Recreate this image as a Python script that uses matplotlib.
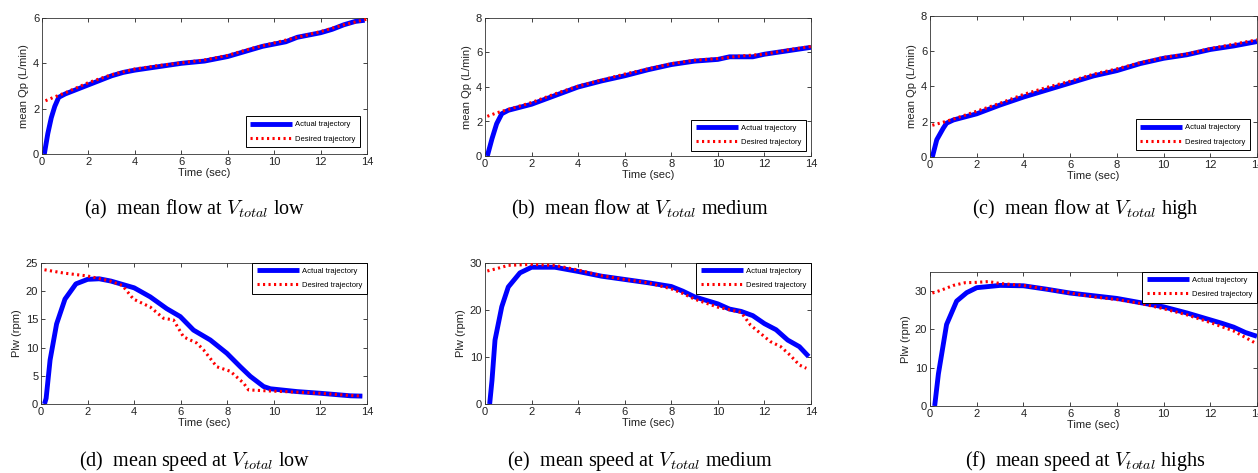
import numpy as np
import matplotlib
matplotlib.use("Agg")
import matplotlib.pyplot as plt

plt.rcParams['font.family'] = ['Liberation Sans', 'DejaVu Sans']
plt.rcParams['mathtext.fontset'] = 'cm'

# ---- data ----
# (a) mean flow, V_total low
t_a_act = [0.1, 0.25, 0.4, 0.55, 0.72, 1.0, 1.5, 2.0, 2.5, 3.0, 3.5, 4.0, 5.0, 6.0, 7.0, 8.0, 9.0, 9.5, 10.0, 10.5, 11.0, 11.5, 12.0, 12.5, 13.0, 13.5, 13.9]
q_a_act = [0.0, 0.9, 1.6, 2.1, 2.5, 2.65, 2.85, 3.05, 3.25, 3.45, 3.6, 3.7, 3.85, 4.0, 4.1, 4.3, 4.6, 4.75, 4.85, 4.95, 5.15, 5.25, 5.35, 5.5, 5.7, 5.85, 5.9]
t_a_des = [0.15, 0.5, 1.0, 2.0, 3.0, 4.0, 5.0, 6.0, 7.0, 8.0, 9.0, 10.0, 11.0, 12.0, 13.0, 14.0]
q_a_des = [2.35, 2.5, 2.7, 3.15, 3.5, 3.75, 3.9, 4.02, 4.15, 4.35, 4.65, 4.9, 5.15, 5.4, 5.7, 5.95]

# (b) mean flow, V_total medium
t_b_act = [0.1, 0.3, 0.5, 0.72, 1.0, 2.0, 3.0, 4.0, 5.0, 6.0, 7.0, 8.0, 9.0, 10.0, 10.5, 11.0, 11.5, 12.0, 13.0, 14.0]
q_b_act = [0.0, 1.0, 1.87, 2.45, 2.65, 3.0, 3.5, 4.0, 4.35, 4.65, 5.0, 5.3, 5.5, 5.6, 5.75, 5.75, 5.75, 5.9, 6.1, 6.3]
t_b_des = [0.1, 0.5, 1.0, 2.0, 3.0, 4.0, 5.0, 6.0, 7.0, 8.0, 9.0, 10.0, 11.0, 12.0, 13.0, 14.0]
q_b_des = [2.3, 2.5, 2.7, 3.1, 3.6, 4.05, 4.4, 4.75, 5.05, 5.35, 5.55, 5.65, 5.8, 5.9, 6.15, 6.35]

# (c) mean flow, V_total high
t_c_act = [0.1, 0.29, 0.57, 0.71, 1.0, 2.0, 3.0, 4.0, 5.0, 6.0, 7.0, 8.0, 9.0, 10.0, 11.0, 12.0, 13.0, 14.0]
q_c_act = [0.0, 0.98, 1.64, 1.92, 2.1, 2.45, 2.95, 3.4, 3.8, 4.2, 4.6, 4.9, 5.3, 5.6, 5.8, 6.1, 6.3, 6.55]
t_c_des = [0.1, 0.5, 1.0, 2.0, 3.0, 4.0, 5.0, 6.0, 7.0, 8.0, 9.0, 10.0, 11.0, 12.0, 13.0, 14.0]
q_c_des = [1.8, 1.95, 2.15, 2.6, 3.05, 3.55, 3.95, 4.3, 4.7, 5.0, 5.35, 5.65, 5.85, 6.15, 6.4, 6.65]

# (d) mean speed, V_total low
t_d_act = [0.15, 0.22, 0.39, 0.67, 1.03, 1.5, 2.0, 2.5, 3.0, 3.5, 4.0, 4.69, 5.4, 5.98, 6.55, 7.27, 7.98, 8.56, 8.99, 9.56, 9.85, 11.0, 12.0, 13.3, 13.8]
w_d_act = [0.0, 1.0, 7.8, 14.2, 18.6, 21.3, 22.1, 22.2, 21.8, 21.2, 20.6, 19.0, 16.9, 15.5, 13.1, 11.35, 9.0, 6.6, 4.9, 3.1, 2.7, 2.2, 1.9, 1.45, 1.4]
t_d_des = [0.15, 1.0, 2.0, 2.97, 3.5, 3.97, 4.69, 5.26, 5.69, 6.12, 6.69, 6.98, 7.55, 8.13, 8.7, 8.91, 9.85, 11.0, 12.0, 13.0, 13.8]
w_d_des = [23.8, 23.2, 22.7, 21.8, 21.0, 18.6, 17.2, 15.2, 14.9, 11.9, 10.8, 9.6, 6.6, 5.8, 3.7, 2.5, 2.3, 2.1, 1.9, 1.6, 1.4]

# (e) mean speed, V_total medium
t_e_act = [0.2, 0.3, 0.43, 0.72, 1.0, 1.5, 2.0, 3.0, 4.0, 5.0, 6.0, 7.0, 8.0, 8.5, 9.0, 10.0, 10.5, 11.0, 11.5, 12.0, 12.5, 13.0, 13.5, 13.9]
w_e_act = [0.0, 5.0, 13.6, 20.7, 24.9, 27.9, 29.1, 29.1, 28.2, 27.2, 26.5, 25.8, 25.0, 24.0, 22.8, 21.3, 20.2, 19.7, 18.8, 17.1, 15.8, 13.6, 12.2, 10.1]
t_e_des = [0.1, 0.5, 1.0, 2.0, 3.0, 4.0, 5.0, 6.0, 7.0, 8.0, 8.5, 9.0, 10.0, 11.0, 11.4, 12.25, 12.7, 13.1, 13.5, 13.8]
w_e_des = [28.3, 28.8, 29.5, 29.7, 29.5, 28.5, 27.3, 26.5, 25.8, 24.5, 23.5, 22.3, 20.6, 19.5, 16.8, 13.3, 12.2, 10.4, 8.3, 7.6]

# (f) mean speed, V_total highs
t_f_act = [0.2, 0.36, 0.71, 1.14, 1.57, 2.0, 3.0, 4.0, 5.0, 6.0, 7.0, 8.0, 9.0, 10.0, 11.0, 12.0, 12.5, 13.0, 13.5, 14.0]
w_f_act = [0.0, 8.4, 21.3, 27.4, 29.6, 30.9, 31.5, 31.4, 30.5, 29.5, 28.8, 28.1, 27.0, 25.9, 24.3, 22.5, 21.6, 20.6, 19.2, 18.2]
t_f_des = [0.1, 0.5, 1.0, 1.5, 2.0, 2.5, 3.0, 4.0, 5.0, 6.0, 7.0, 8.0, 9.0, 10.0, 11.0, 12.0, 13.0, 14.0]
w_f_des = [29.5, 30.3, 31.5, 32.2, 32.3, 32.5, 32.0, 31.5, 30.5, 29.5, 28.5, 27.8, 26.8, 25.4, 23.8, 21.8, 19.6, 16.2]

captions = [r"(a)  mean flow at $V_{total}$ low",
            r"(b)  mean flow at $V_{total}$ medium",
            r"(c)  mean flow at $V_{total}$ high",
            r"(d)  mean speed at $V_{total}$ low",
            r"(e)  mean speed at $V_{total}$ medium",
            r"(f)  mean speed at $V_{total}$ highs"]

W, H = 1258, 473
fig = plt.figure(figsize=(W / 100, H / 100), dpi=100)


def make_ax(l, r, t, b):
    return fig.add_axes([l / W, 1 - b / H, (r - l) / W, (b - t) / H])


panels = [
    # box (px), actual, desired, ylim, yticks, ylabel, legend loc, legend pad
    ((42, 367, 18, 154), (t_a_act, q_a_act), (t_a_des, q_a_des), (0, 6), [0, 2, 4, 6], "mean Qp (L/min)", "lower right", 0.9),
    ((485, 811, 18, 156), (t_b_act, q_b_act), (t_b_des, q_b_des), (0, 8), [0, 2, 4, 6, 8], "mean Qp (L/min)", "lower right", 0.7),
    ((930, 1257, 16, 157), (t_c_act, q_c_act), (t_c_des, q_c_des), (0, 8), [0, 2, 4, 6, 8], "mean Qp (L/min)", "lower right", 0.9),
    ((41, 367, 263, 404), (t_d_act, w_d_act), (t_d_des, w_d_des), (0, 25), [0, 5, 10, 15, 20, 25], "Plw (rpm)", "upper right", 0.0),
    ((485, 811, 263, 404), (t_e_act, w_e_act), (t_e_des, w_e_des), (0, 30), [0, 10, 20, 30], "Plw (rpm)", "upper right", 0.0),
    ((930, 1257, 272, 406), (t_f_act, w_f_act), (t_f_des, w_f_des), (0, 35), [0, 10, 20, 30], "Plw (rpm)", "upper right", 0.0),
]

for i, (box, act, des, ylim, yt, ylab, loc, pad) in enumerate(panels):
    ax = make_ax(*box)
    ax.plot(act[0], act[1], color='#0000ff', lw=3.5, solid_capstyle='butt',
            solid_joinstyle='round', label='Actual trajectory', zorder=2)
    ax.plot(des[0], des[1], color='#ff0000', lw=2.2, linestyle=(0, (0.7, 1.1)),
            dash_capstyle='butt', label='Desired trajectory', zorder=3)
    ax.set_xlim(0, 14)
    ax.set_ylim(*ylim)
    ax.set_xticks(range(0, 15, 2))
    ax.set_yticks(yt)
    ax.tick_params(direction='in', top=True, right=True, length=3, width=0.6,
                   labelsize=8, colors='#222222', pad=2)
    for s in ax.spines.values():
        s.set_linewidth(0.6)
        s.set_color('#333333')
    ax.set_xlabel("Time (sec)", fontsize=8, color='#222222', labelpad=1)
    ax.set_ylabel(ylab, fontsize=8, color='#222222', labelpad=3)
    leg = ax.legend(loc=loc, fontsize=5.5, handlelength=5.5, borderaxespad=pad,
                    fancybox=False, framealpha=1, edgecolor='black',
                    borderpad=0.6, labelspacing=0.9, handletextpad=0.4)
    leg.get_frame().set_linewidth(0.7)

    cx = [195, 640, 1085][i % 3]
    cy = [209, 461][i // 3]
    fig.text(cx / W, 1 - cy / H, captions[i], ha='center', va='center',
             fontsize=14.5, family=['Liberation Serif', 'DejaVu Serif'])

fig.savefig("out.png", dpi=100)
